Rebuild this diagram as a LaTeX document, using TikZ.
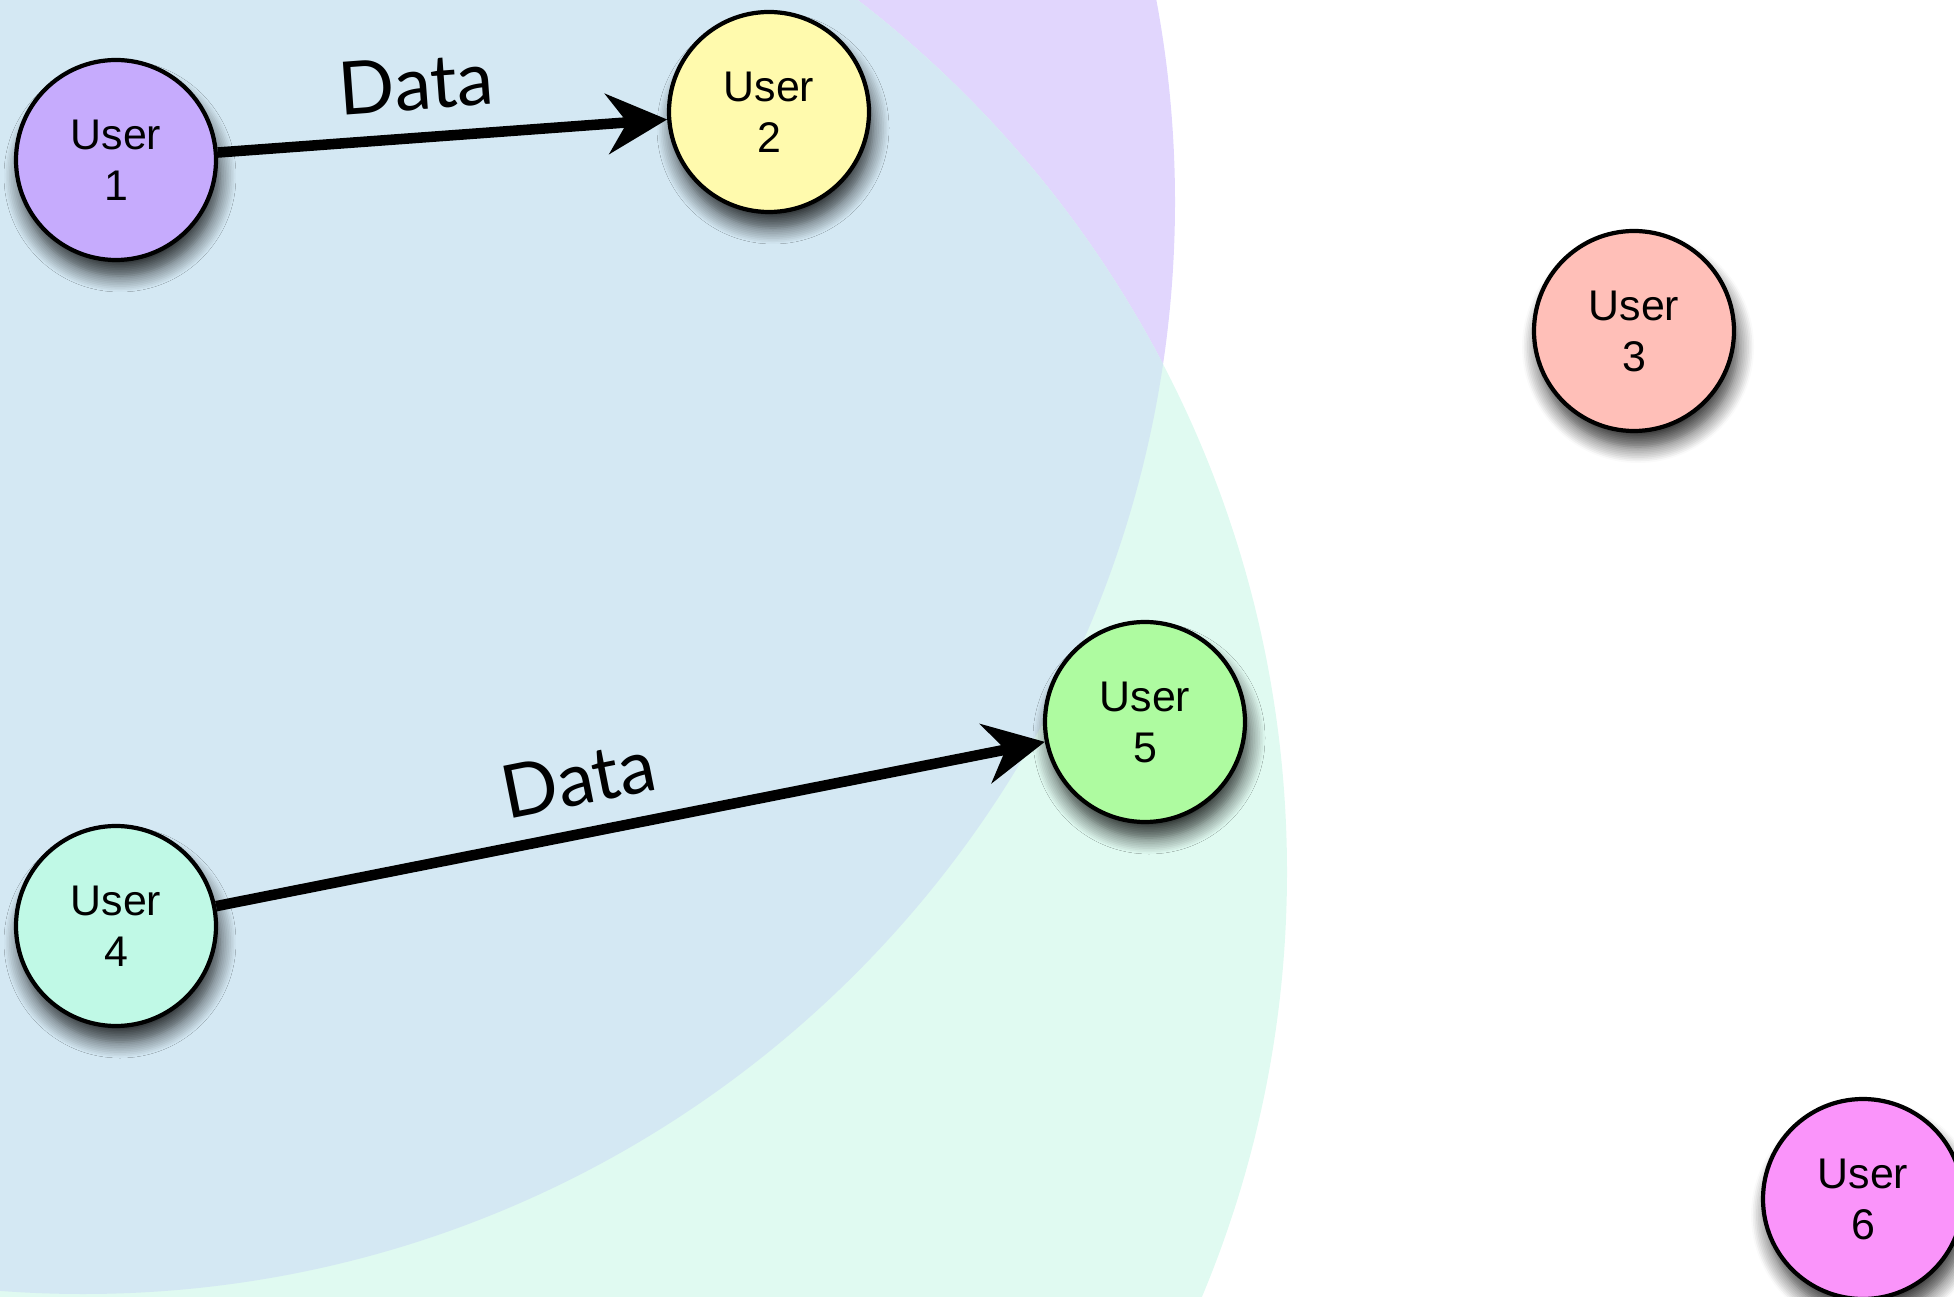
\documentclass[tikz,border=0pt]{standalone}
\usepackage{fontspec}
\setmainfont{Liberation Sans}
\newfontfamily\datafont{Lato}
\usepackage{xcolor}
\usetikzlibrary{arrows.meta,shadows.blur}

\definecolor{rangeone}{HTML}{E1D6FD}
\definecolor{rangefour}{HTML}{E0FAF1}
\definecolor{rangeboth}{HTML}{D4E8F3}
\definecolor{userone}{HTML}{C6ABFD}
\definecolor{usertwo}{HTML}{FFFAAD}
\definecolor{userthree}{HTML}{FFBFB8}
\definecolor{userfour}{HTML}{C0F9E6}
\definecolor{userfive}{HTML}{AEFBA0}
\definecolor{usersix}{HTML}{FA94FA}

\begin{document}
\begin{tikzpicture}[
    user/.style={
        circle,
        draw,
        line width=1.2pt,
        minimum size=2cm,
        inner sep=0pt,
        align=center,
        font=\fontsize{12.2}{14.5}\selectfont,
        blur shadow={shadow xshift=0.04cm, shadow yshift=-0.16cm,
            shadow blur radius=0.16cm, shadow blur steps=10, shadow opacity=80}
    },
    line/.style={-{Stealth[length=6mm, width=6mm, inset=2mm]}, line width=3pt},
    datalabel/.style={font=\datafont\fontsize{21}{21}\selectfont, sloped, above=3pt, pos=0.45}
]

\useasboundingbox (0,0) rectangle (19.54,-12.97);

% ---- Ranges ----
\begin{scope}
    \clip (0,0) rectangle (19.54,-12.97);
    \fill[rangeone] (0.83,-2.02) circle (10.92);
    \fill[rangefour] (1.87,-8.72) circle (11.0);
    \clip (0.83,-2.02) circle (10.92);
    \fill[rangeboth] (1.87,-8.72) circle (11.0);
\end{scope}

% ---- Users ----
\node[user, fill=userone] (u1) at (1.16,-1.60) {User\\1};
\node[user, fill=usertwo] (u2) at (7.69,-1.12) {User\\2};
\node[user, fill=userthree] (u3) at (16.34,-3.31) {User\\3};
\node[user, fill=userfour] (u4) at (1.16,-9.26) {User\\4};
\node[user, fill=userfive] (u5) at (11.45,-7.22) {User\\5};
\node[user, fill=usersix] (u6) at (18.63,-11.99) {User\\6};

% ---- Transfers ----
\draw[line] (u1) -- node[datalabel] {Data} (u2);
\draw[line] (u4) -- node[datalabel] {Data} (u5);

\end{tikzpicture}
\end{document}
